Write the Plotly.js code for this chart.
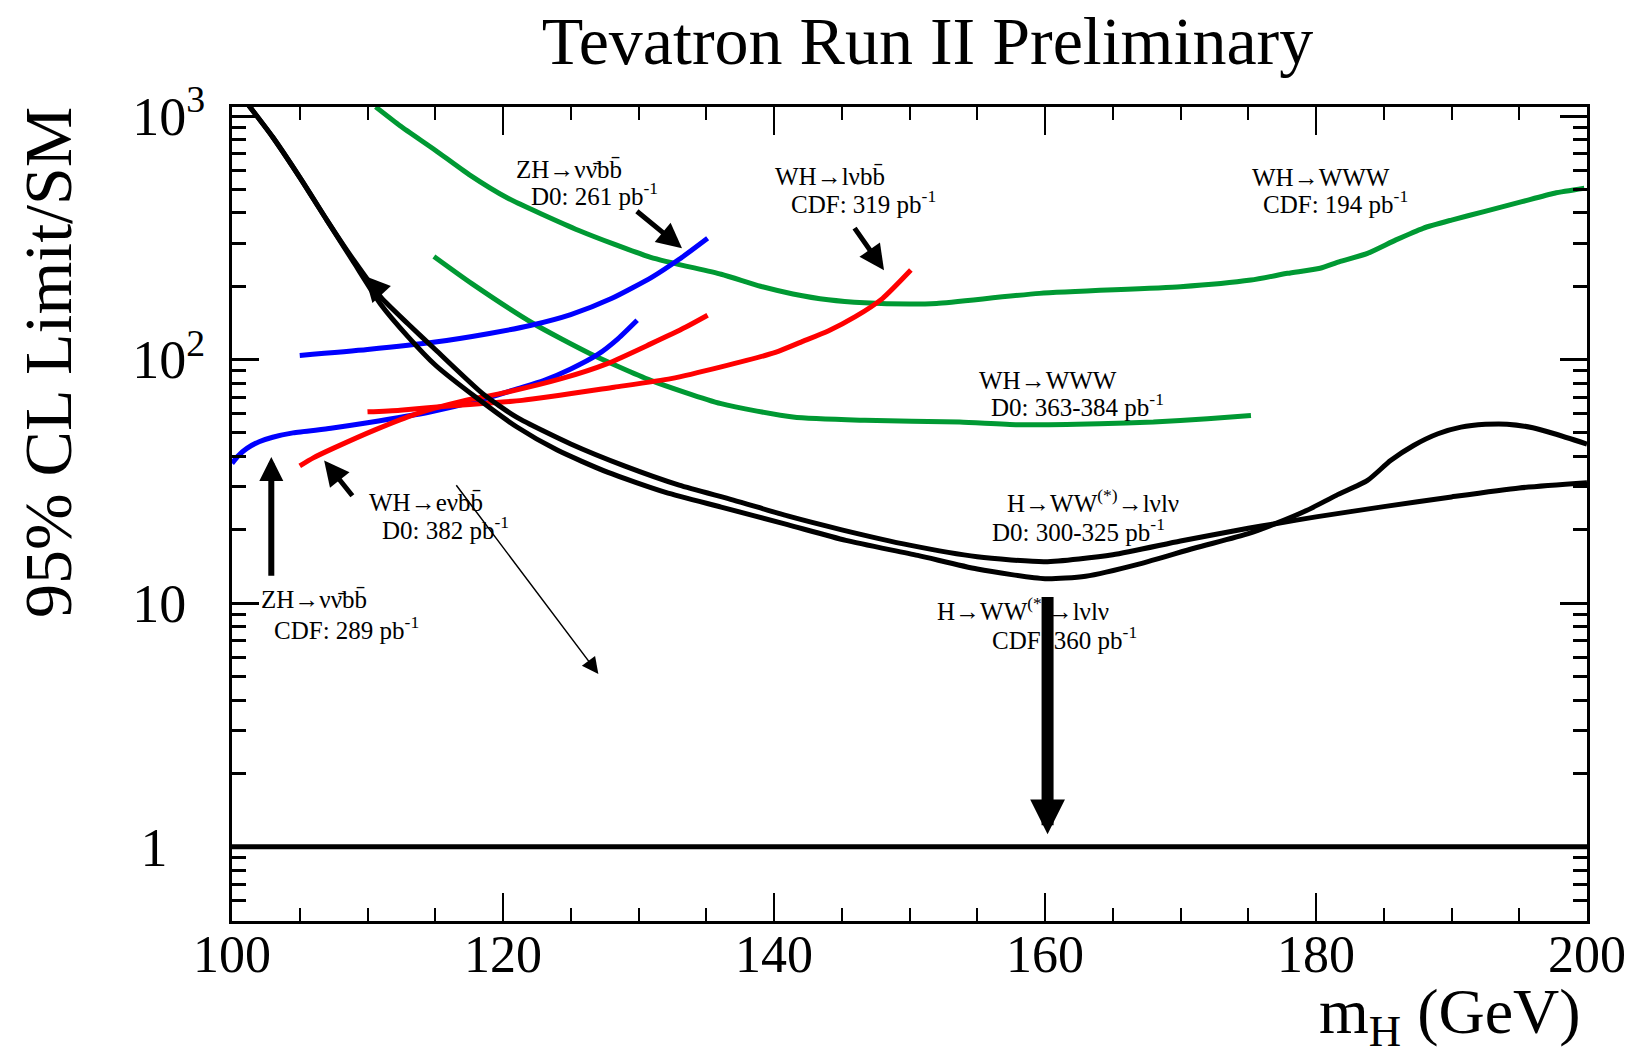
<!DOCTYPE html>
<html>
<head>
<meta charset="utf-8">
<script src="https://cdn.plot.ly/plotly-3.0.1.min.js"></script>
<style>
  html, body { margin: 0; padding: 0; background: #ffffff; }
  #chart { width: 1633px; height: 1058px; }
</style>
</head>
<body>
<div id="chart"></div>
<script>
// Higgs mass (GeV) and 95% CL upper limit / SM prediction, per channel

// H -> WW(*) -> l nu l nu, D0 300-325 pb^-1
const massHwwD0  = [101, 103, 105, 107, 109, 111, 113, 115, 118.5, 121, 125, 129, 133, 137, 141, 145, 150, 155, 160, 165, 170, 175, 177, 180, 185, 190, 195, 200];
const limitHwwD0 = [1150, 820, 560, 374, 255, 180, 140, 110, 72.5, 58, 45, 36.5, 30.5, 26.5, 22.8, 20, 17.3, 15.5, 14.8, 15.8, 18, 20.3, 21.2, 22.6, 24.9, 27.3, 29.7, 31.2];

// H -> WW(*) -> l nu l nu, CDF 360 pb^-1
const massHwwCDF  = [101, 103, 105, 107, 109, 111, 113, 115, 118, 121, 124, 127.7, 132, 136.1, 141, 145.3, 150.6, 155, 160, 163, 167, 171, 175, 177, 179.3, 181.5, 183.8, 185.5, 187.2, 189, 190.7, 192.5, 194.1, 196, 197.6, 200];
const limitHwwCDF = [1150, 820, 560, 374, 250, 168, 124, 95, 70, 53, 42.5, 34.5, 28.5, 24.8, 21, 18.1, 15.7, 13.8, 12.6, 12.9, 14.5, 16.8, 19.3, 21.2, 24, 27.7, 31.9, 38.5, 44.4, 49.6, 52.8, 54.2, 54.3, 52.5, 49.6, 45];

// ZH -> nu nu bb, D0 261 pb^-1
const massZhD0  = [105, 110, 115, 119, 122, 125, 128, 131, 133, 135.1];
const limitZhD0 = [104, 110, 118, 128, 138, 153, 178, 218, 258, 315];

// ZH -> nu nu bb, CDF 289 pb^-1
const massZhCDF  = [100, 100.5, 101.1, 102, 103, 104.5, 107.3, 110, 114.6, 118, 121.1, 123, 125, 127, 128.5, 129.9];
const limitZhCDF = [37.5, 40.5, 43.2, 46, 48, 50, 52.2, 55, 60.9, 67.5, 76, 82, 91.5, 105, 122, 145];

// WH -> e nu bb, D0 382 pb^-1
const massWhD0  = [105, 106, 107.5, 110.6, 113.6, 117, 119.8, 124.3, 127.7, 130.9, 133.5, 135.1];
const limitWhD0 = [36.6, 39.5, 43.3, 51.6, 59.9, 67.5, 72.5, 83.5, 96.3, 116, 136, 152];

// WH -> l nu bb, CDF 319 pb^-1
const massWhCDF  = [110, 112.4, 116, 121.4, 128.2, 132.4, 136.1, 140.1, 142, 144, 146, 148, 150.1];
const limitWhCDF = [61, 62, 64.5, 68, 77, 83.5, 93.3, 107, 118, 131, 150, 178, 233];

// WH -> WWW, CDF 194 pb^-1
const massWwwCDF  = [110.6, 112.4, 115, 117.5, 120.3, 125.6, 130.9, 136.1, 139, 141.4, 144, 146.7, 150, 152, 159.6, 170, 175.2, 177.9, 180.3, 181.7, 183.8, 185.9, 187.9, 190, 192.4, 195.2, 197.6, 199.8];
const limitWwwCDF = [1090, 912, 724, 575, 462, 339, 263, 224, 200, 186, 176, 171, 169, 170, 187, 199, 212, 226, 237, 252, 273, 310, 346, 374, 405, 445, 482, 505];

// WH -> WWW, D0 363-384 pb^-1
const massWwwD0  = [114.9, 117.7, 122.2, 126.4, 130.9, 136.1, 141.4, 146.7, 153.7, 158, 164, 168, 172, 175.2];
const limitWwwD0 = [265, 205, 141, 106, 82.2, 65.9, 58.1, 56.3, 55.4, 54, 54.5, 55.4, 57.2, 59];

// Standard Model reference level
const smMass  = [100, 200];
const smLimit = [1, 1];

// Axis ticks
const xTickVals  = [100, 120, 140, 160, 180, 200];
const xTickText  = ['100', '120', '140', '160', '180', '200'];
const xMinorVals = [105, 110, 115, 125, 130, 135, 145, 150, 155, 165, 170, 175, 185, 190, 195];
const yTickVals  = [1, 10, 100, 1000];
const yTickText  = ['1', '10', '10<sup>2</sup>', '10<sup>3</sup>'];
const yMinorVals = [0.5, 0.6, 0.7, 0.8, 0.9, 2, 3, 4, 5, 6, 7, 8, 9,
                    20, 30, 40, 50, 60, 70, 80, 90, 200, 300, 400, 500, 600, 700, 800, 900];

const GREEN = 'rgb(0,153,51)';
const SERIF = 'Liberation Serif, Times New Roman, serif';

function curve(x, y, color, width) {
  return {
    x: x, y: y, type: 'scatter', mode: 'lines',
    line: { color: color, width: width, shape: 'spline', smoothing: 0.6 },
    hoverinfo: 'skip', showlegend: false
  };
}

const traces = [
  curve(smMass, smLimit, 'black', 5),
  curve(massWwwCDF, limitWwwCDF, GREEN, 5),
  curve(massWwwD0, limitWwwD0, GREEN, 5),
  curve(massZhD0, limitZhD0, 'blue', 5),
  curve(massZhCDF, limitZhCDF, 'blue', 5),
  curve(massWhD0, limitWhD0, 'red', 5),
  curve(massWhCDF, limitWhCDF, 'red', 5),
  curve(massHwwD0, limitHwwD0, 'black', 5),
  curve(massHwwCDF, limitHwwCDF, 'black', 5)
];

// Channel captions, placed in (mass, log10 limit) coordinates
function label(m, logv, text) {
  return {
    x: m, y: logv, xref: 'x', yref: 'y', text: text, showarrow: false,
    xanchor: 'left', yanchor: 'middle',
    font: { family: SERIF, size: 25, color: 'black' }
  };
}
// Arrows from (tail) to (head), also in (mass, log10 limit)
function arrow(mt, lt, mh, lh, width, size) {
  return {
    x: mh, y: lh, ax: mt, ay: lt, xref: 'x', yref: 'y', axref: 'x', ayref: 'y',
    text: '', showarrow: true, arrowhead: 2, arrowsize: size, arrowwidth: width,
    arrowcolor: 'black', standoff: 0, startstandoff: 0
  };
}

const bbar = 'b\u0304';
const nubar = '\u03BD\u0304';
const pbInv = 'pb<sup>-1</sup>';

const annotations = [
  label(120.78, 2.779, 'ZH\u2192\u03BD' + nubar + 'b' + bbar),
  label(121.93, 2.681, 'D0: 261 ' + pbInv),
  label(139.91, 2.750, 'WH\u2192l\u03BDb' + bbar),
  label(141.14, 2.647, 'CDF: 319 ' + pbInv),
  label(175.10, 2.747, 'WH\u2192WWW'),
  label(175.94, 2.649, 'CDF: 194 ' + pbInv),
  label(154.97, 1.914, 'WH\u2192WWW'),
  label(155.85, 1.812, 'D0: 363-384 ' + pbInv),
  label(157.04, 1.418, 'H\u2192WW<sup>(*)</sup>\u2192l\u03BDl\u03BD'),
  label(155.92, 1.300, 'D0: 300-325 ' + pbInv),
  label(151.87, 0.975, 'H\u2192WW<sup>(*)</sup>\u2192l\u03BDl\u03BD'),
  label(155.93, 0.858, 'CDF: 360 ' + pbInv),
  label(109.95, 1.412, 'WH\u2192e\u03BDb' + bbar),
  label(110.95, 1.307, 'D0: 382 ' + pbInv),
  label(101.96, 1.014, 'ZH\u2192\u03BD' + nubar + 'b' + bbar),
  label(102.96, 0.896, 'CDF: 289 ' + pbInv),

  arrow(129.77, 2.614, 133.21, 2.457, 5, 1.0),
  arrow(145.87, 2.546, 148.12, 2.367, 5, 1.0),
  arrow(108.97, 1.435, 106.80, 1.586, 5, 1.0),
  arrow(102.90, 1.106, 102.90, 1.600, 6, 0.8),
  arrow(116.47, 1.490, 127.04, 0.709, 1.5, 2.2),
  arrow(160.19, 1.031, 160.19, 0.051, 12, 0.58),
  arrow(110.72, 2.287, 109.80, 2.343, 5, 1.0),

  // axis titles
  {
    xref: 'paper', yref: 'paper', x: 0.997, y: -0.1685, xanchor: 'right', yanchor: 'bottom',
    text: 'm<sub>H</sub> (GeV)', showarrow: false,
    font: { family: SERIF, size: 64, color: 'black' }
  },
  {
    xref: 'paper', yref: 'paper', x: -0.1362, y: 0.686, xanchor: 'center', yanchor: 'middle',
    text: '95% CL Limit/SM', textangle: -90, showarrow: false,
    font: { family: SERIF, size: 68, color: 'black' }
  }
];

// Labels without an exponent get invisible padding so the bases line up
const ghost = n => '<sup><span style="color:rgba(0,0,0,0)">' + '0'.repeat(n) + '</span></sup>';
const yLabels = yTickText.map(t => t.indexOf('<sup>') >= 0 ? t : t + ghost(t.length === 1 ? 2 : 1));

const layout = {
  width: 1633, height: 1058,
  paper_bgcolor: '#ffffff', plot_bgcolor: '#ffffff',
  margin: { l: 232, r: 46, t: 107, b: 137 },
  showlegend: false,
  title: {
    text: 'Tevatron Run II Preliminary',
    font: { family: SERIF, size: 68, color: 'black' },
    x: 0.568, xanchor: 'center', xref: 'container',
    y: 0.962, yanchor: 'middle', yref: 'container'
  },
  xaxis: {
    range: [100, 200], showgrid: false, zeroline: false,
    showline: true, linewidth: 3, linecolor: 'black', mirror: 'allticks',
    ticks: 'inside', ticklen: 28, tickwidth: 2, tickcolor: 'black',
    tickmode: 'array', tickvals: xTickVals, ticktext: xTickText,
    tickfont: { family: SERIF, size: 52, color: 'black' },
    ticklabelstandoff: -14,
    minor: { tickmode: 'array', tickvals: xMinorVals, ticks: 'inside', ticklen: 13, tickwidth: 2, tickcolor: 'black', showgrid: false }
  },
  yaxis: {
    type: 'log', range: [-0.305, 3.037], showgrid: false, zeroline: false,
    showline: true, linewidth: 3, linecolor: 'black', mirror: 'allticks',
    ticks: 'inside', ticklen: 27, tickwidth: 3, tickcolor: 'black',
    tickmode: 'array', tickvals: yTickVals, ticktext: yLabels,
    tickfont: { family: SERIF, size: 54, color: 'black' },
    ticklabelstandoff: 13,
    minor: { tickmode: 'array', tickvals: yMinorVals, ticks: 'inside', ticklen: 14, tickwidth: 3, tickcolor: 'black', showgrid: false }
  },
  annotations: annotations
};

Plotly.newPlot('chart', traces, layout, { displayModeBar: false, staticPlot: true });
</script>
</body>
</html>
